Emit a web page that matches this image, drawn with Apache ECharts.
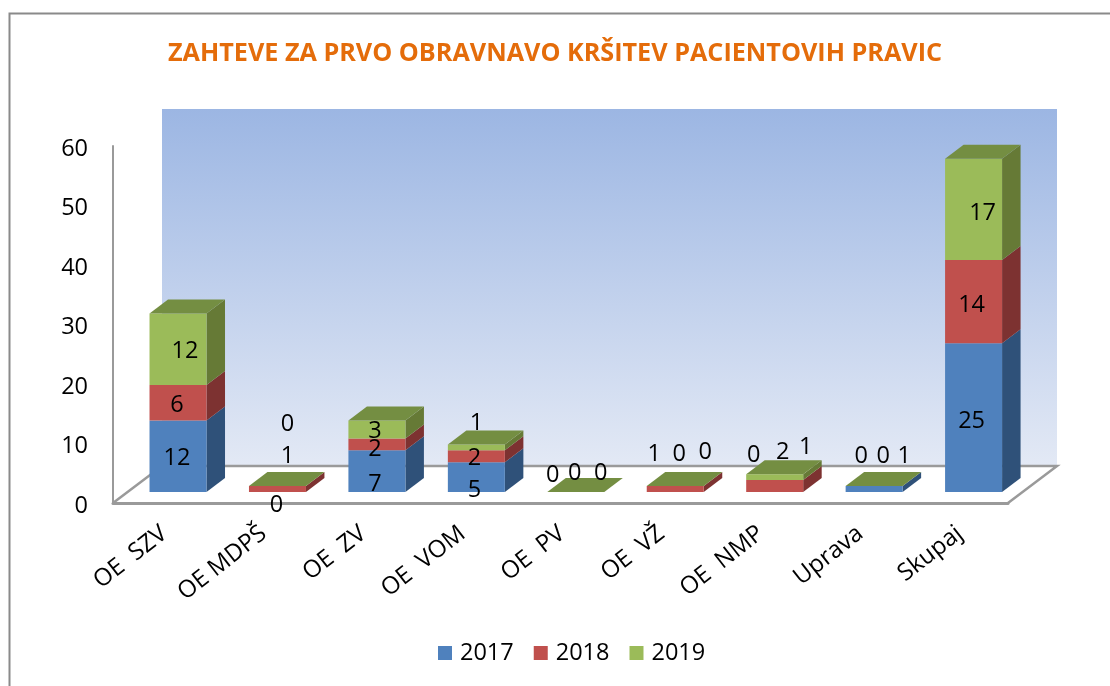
<!DOCTYPE html>
<html>
<head>
<meta charset="utf-8">
<style>html,body{margin:0;padding:0;background:#fff}#c{width:1110px;height:686px}</style>
<script src="https://cdn.jsdelivr.net/npm/echarts@6/dist/echarts.min.js"></script>
</head>
<body>
<div id="c"></div>
<script>
const titleText = 'ZAHTEVE ZA PRVO OBRAVNAVO KRŠITEV PACIENTOVIH PRAVIC';
const categories = ['OE  SZV', 'OE MDPŠ', 'OE  ZV', 'OE  VOM', 'OE  PV', 'OE  VŽ', 'OE  NMP', 'Uprava', 'Skupaj'];
const seriesNames = ['2017', '2018', '2019'];
const values2017 = [12, 0, 7, 5, 0, 0, 0, 1, 25];
const values2018 = [6, 1, 2, 2, 0, 1, 2, 0, 14];
const values2019 = [12, 0, 3, 1, 0, 0, 1, 0, 17];
const allValues = [values2017, values2018, values2019];

// Styling / layout only
const frontColors = ['#4F81BD', '#C0504D', '#9BBB59'];
const sideColors = ['#2F5179', '#7D3231', '#667A36'];
const topColor = '#748E42';
const FONT = '"Open Sans", sans-serif';
const WALL_DX = 49, WALL_DY = -37;      // floor depth
const BAR_DX = 15.3, BAR_DY = -11;      // bar placement in depth
const BAR_DEPTH_X = 18.5, BAR_DEPTH_Y = -14;
const BAR_W = 57;
// hand placed data labels: per series, per category nudge from segment centre
const labelNudges = [
  [[-1,1],[-1,12],[-2,12],[-2,12],[-23,-18],[4,-39],[-21,-38],[30,-34],[-2,2]],
  [[-1,1],[10,-34],[-2,3],[-2,1],[-1,-20],[-21,-36],[8,-35],[9,-31],[-2,2]],
  [[7,1],[10,-63],[-2,0],[0,-26],[25,-20],[30,-35],[31,-31],[-13,-31],[9,2]]
];

function poly(points, fill, extra) {
  return Object.assign({ type: 'polygon', shape: { points: points }, style: { fill: fill } }, extra || {});
}

function renderBackdrop(params, api) {
  const r = params.coordSys;
  const L = r.x, R = r.x + r.width, T = r.y, B = r.y + r.height;
  const wall = [[L + WALL_DX, T + WALL_DY], [R + WALL_DX, T + WALL_DY], [R + WALL_DX, B + WALL_DY], [L + WALL_DX, B + WALL_DY]];
  const grad = new echarts.graphic.LinearGradient(0, 0, 0, 1, [
    { offset: 0, color: '#9CB6E3' },
    { offset: 1, color: '#E3E9F5' }
  ]);
  return {
    type: 'group',
    children: [
      poly(wall, grad),
      { type: 'polyline', shape: { points: [[L, B], [L + WALL_DX, B + WALL_DY], [R + WALL_DX, B + WALL_DY], [R, B]] },
        style: { stroke: '#9A9A9A', lineWidth: 2.5, fill: 'none' } }
    ]
  };
}

function makeBarRenderer(s) {
  return function (params, api) {
    const i = api.value(0);
    let base = 0;
    for (let k = 0; k < s; k++) base += allValues[k][i];
    const lo = api.coord([i, base]);
    const hi = api.coord([i, base + api.value(1)]);
    const x0 = lo[0] + BAR_DX - BAR_W / 2, x1 = x0 + BAR_W;
    const y0 = lo[1] + BAR_DY, y1 = hi[1] + BAR_DY;
    const dx = BAR_DEPTH_X, dy = BAR_DEPTH_Y;
    const children = [];
    children.push(poly([[x1, y0], [x1 + dx, y0 + dy], [x1 + dx, y1 + dy], [x1, y1]], sideColors[s]));
    children.push(poly([[x0, y0], [x1, y0], [x1, y1], [x0, y1]], frontColors[s]));
    if (s === allValues.length - 1) {
      children.push(poly([[x0, y1], [x1, y1], [x1 + dx, y1 + dy], [x0 + dx, y1 + dy]], topColor));
    }
    return { type: 'group', children: children };
  };
}

function renderLabels(params, api) {
  const i = api.value(0), s = api.value(1), v = api.value(2);
  let base = 0;
  for (let k = 0; k < s; k++) base += allValues[k][i];
  const p = api.coord([i, base + v / 2]);
  const n = labelNudges[s][i];
  return {
    type: 'text',
    style: {
      text: String(v),
      x: p[0] + BAR_DX + n[0],
      y: p[1] + BAR_DY + n[1] + 1.5,
      align: 'center',
      verticalAlign: 'middle',
      fill: '#000',
      font: '23.5px ' + FONT
    }
  };
}

const labelData = [];
allValues.forEach((arr, s) => arr.forEach((v, i) => labelData.push([i, s, v])));

const chart = echarts.init(document.getElementById('c'), null, { renderer: 'canvas' });
chart.setOption({
  animation: false,
  backgroundColor: '#fff',
  title: {
    text: titleText,
    left: 'center',
    top: 36,
    textStyle: { color: '#E46C0A', fontFamily: FONT, fontWeight: 'bold', fontSize: 25.2 }
  },
  grid: { left: 113, right: 102, top: 146, bottom: 183 },
  legend: {
    data: seriesNames,
    left: 433,
    top: 636,
    icon: 'rect',
    itemWidth: 14,
    itemHeight: 14,
    itemGap: 20,
    textStyle: { fontFamily: FONT, fontSize: 23.5, color: '#000', padding: [0, 0, 0, 3] }
  },
  xAxis: {
    type: 'category',
    data: categories,
    axisLine: { show: true, lineStyle: { color: '#9A9A9A', width: 3 } },
    axisTick: { show: false },
    axisLabel: { rotate: 38, margin: 29, interval: 0, fontFamily: FONT, fontSize: 24, color: '#000', padding: [0, -2, 0, 0] }
  },
  yAxis: {
    type: 'value',
    min: 0,
    max: 60,
    interval: 10,
    axisLine: { show: true, lineStyle: { color: '#9A9A9A', width: 2 } },
    axisTick: { show: false },
    splitLine: { show: false },
    axisLabel: { margin: 25, fontFamily: FONT, fontSize: 23.5, color: '#000', verticalAlign: 'top', lineHeight: 6 }
  },
  graphic: [{
    type: 'polyline',
    shape: { points: [[9.5, 700], [9.5, 13.5], [1120, 13.5]] },
    style: { stroke: '#8A8A8A', lineWidth: 2, fill: 'none' },
    silent: true
  }],
  series: [
    { type: 'custom', name: 'backdrop', z: 0, silent: true, renderItem: renderBackdrop, data: [[0, 0]], encode: { x: 0, y: 1 }, clip: false }
  ].concat(seriesNames.map((name, s) => ({
    type: 'custom',
    name: name,
    z: 3 + s,
    silent: true,
    itemStyle: { color: frontColors[s] },
    renderItem: makeBarRenderer(s),
    data: allValues[s].map((v, i) => [i, v]),
    encode: { x: 0, y: 1 }
  }))).concat([
    { type: 'custom', name: 'labels', z: 10, silent: true, renderItem: renderLabels, data: labelData, encode: { x: 0, y: 2 } }
  ])
});
</script>
</body>
</html>
